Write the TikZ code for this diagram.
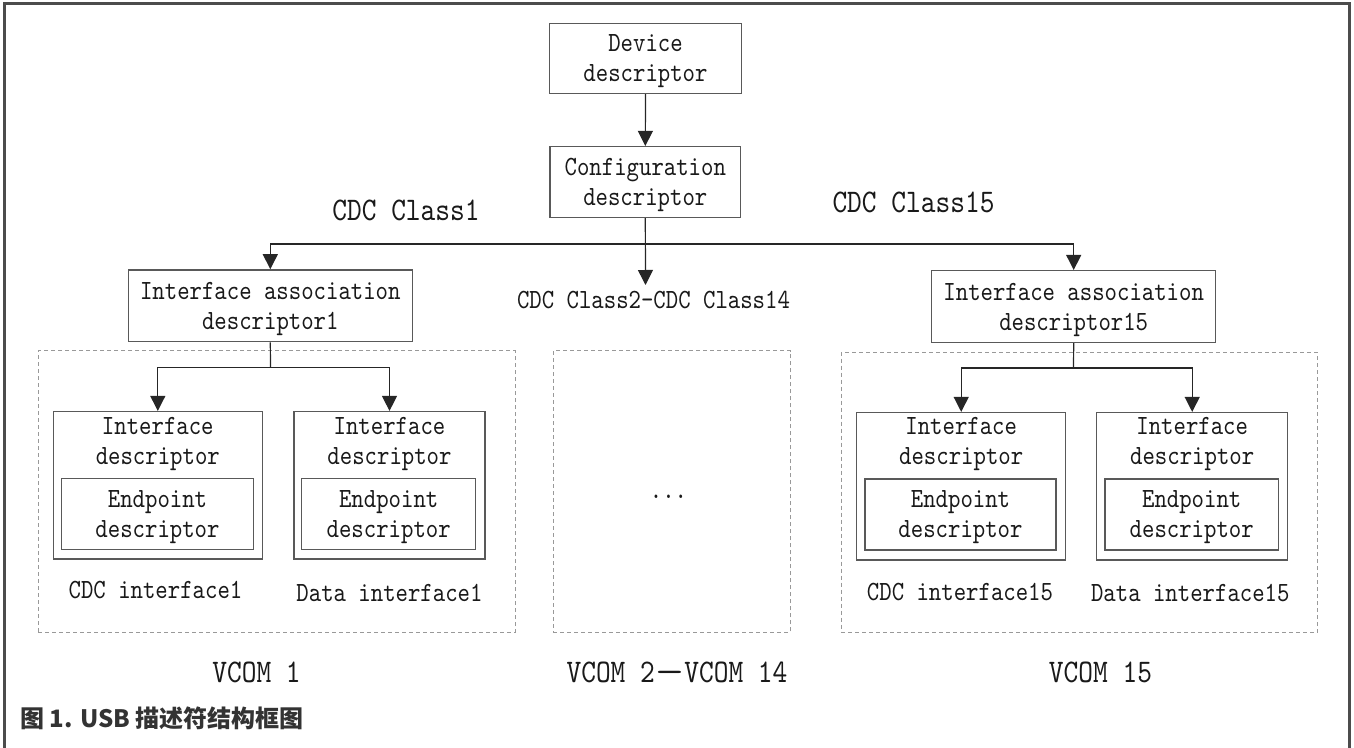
\documentclass[tikz,border=0pt]{standalone}
\usepackage{fontspec}
\usepackage{graphicx}
\usetikzlibrary{arrows.meta}
\newfontfamily\lmm{lmmono10-regular.otf}[FakeStretch=0.85]
\newfontfamily\cjk{Noto Sans CJK SC}
\newcommand\boxfont{\lmm\fontsize{13.9}{15}\selectfont}
\newcommand\bigfont{\lmm\fontsize{16.5}{18}\selectfont}
\tikzset{
  sz/.style 2 args={minimum width=#1*0.5pt, minimum height=#2*0.5pt},
  box/.style={draw=black!65, line width=0.75pt, inner sep=0pt, align=center, font=\boxfont, text=black!90, text depth=0pt},
  txt/.style={inner sep=0pt, align=center, font=\boxfont, text=black!90, text depth=0pt},
  big/.style={inner sep=0pt, font=\bigfont, text=black!90},
  grp/.style={draw=black!40, dash pattern=on 2pt off 1.5pt, line width=0.5pt, inner sep=0pt},
  arr/.style={draw=black!85, line width=0.6pt, -{Triangle[width=7.5pt,length=7.5pt]}},
  wire/.style={draw=black!85, line width=0.6pt},
  frame/.style={draw=black!70, line width=1.5pt},
}
\begin{document}
\begin{tikzpicture}[x=0.5pt, y=-0.5pt]
\useasboundingbox (0,0) rectangle (1354,748);
\draw[frame] (4.5,748) -- (4.5,4) -- (1349.5,4) -- (1349.5,748);

% dashed groups
\node[grp, sz={476.7}{281.5}] (g1) at (276.65,491.75) {};
\node[grp, sz={236.7}{282}] (g2) at (671.65,491.7) {};
\node[grp, sz={476.3}{280.2}] (g3) at (1079.15,492.6) {};

% top boxes
\node[box, sz={191.7}{70}] (dev) at (645.5,58.3) {Device\\descriptor};
\node[box, sz={190.7}{70.6}] (cfg) at (645.3,182) {Configuration\\descriptor};
\node[box, sz={284}{71.7}] (iad1) at (270.3,305.8) {Interface association\\descriptor1};
\node[box, sz={284}{71.6}] (iad15) at (1073.7,306.5) {Interface association\\descriptor15};

% interface boxes
\node[box, sz={209}{147.3}] (L1) at (157.8,485.3) {};
\node[txt] (L1t) at (157.8,440.5) {Interface\\descriptor};
\node[box, sz={191.6}{71}] (L1e) at (157.5,513.8) {Endpoint\\descriptor};

\node[box, sz={191}{147.3}] (L2) at (389.5,485.3) {};
\node[txt] (L2t) at (389.5,440.5) {Interface\\descriptor};
\node[box, sz={174}{71}] (L2e) at (388.7,513.8) {Endpoint\\descriptor};

\node[box, sz={209}{147.3}] (R1) at (961.2,486.3) {};
\node[txt] (R1t) at (961.2,441) {Interface\\descriptor};
\node[box, sz={191}{71}] (R1e) at (960.5,514.5) {Endpoint\\descriptor};

\node[box, sz={191}{147.3}] (R2) at (1192.2,486.3) {};
\node[txt] (R2t) at (1192.2,441) {Interface\\descriptor};
\node[box, sz={173.3}{71}] (R2e) at (1191.7,514.5) {Endpoint\\descriptor};

% labels
\node[big] (c1) at (406,210) {CDC Class1};
\node[big] (c15) at (913.5,202.5) {CDC Class15};
\node[txt] (mid) at (653.5,300) {CDC Class2-CDC Class14};
\node[txt] (l1) at (155.5,590) {CDC interface1};
\node[txt] (l2) at (389.5,592.7) {Data interface1};
\node[txt] (l3) at (960,591.7) {CDC interface15};
\node[txt] (l4) at (1190.3,593) {Data interface15};
\node[txt] (dots) at (668.5,496.7) {...};
\node[big] (v1) at (256.5,672) {VCOM 1};
\node[big] (v2) at (677,672) {VCOM 2\scalebox{2}[1]{—}VCOM 14};
\node[big] (v15) at (1100.5,672) {VCOM 15};
\node[anchor=west, inner sep=0pt, font=\cjk\bfseries\fontsize{12}{14}\selectfont, text=black!80] (cap) at (20,718) {图 1. USB 描述符结构框图};

% connectors
\coordinate (tip) at (645.5,285);
\coordinate (bus) at (645.5,244);
\coordinate (b1) at (270.5,367.3);
\coordinate (b15) at (1073.5,368);
\draw[arr] (dev.south) -- (cfg.north);
\draw[arr] (cfg.south) -- (tip);
\draw[arr] (bus) -| (iad1.north);
\draw[arr] (bus) -| (iad15.north);
\draw[wire] (iad1.south) -- (b1);
\draw[arr] (b1) -| (L1.north);
\draw[arr] (b1) -| (L2.north);
\draw[wire] (iad15.south) -- (b15);
\draw[arr] (b15) -| (R1.north);
\draw[arr] (b15) -| (R2.north);
\end{tikzpicture}
\end{document}
